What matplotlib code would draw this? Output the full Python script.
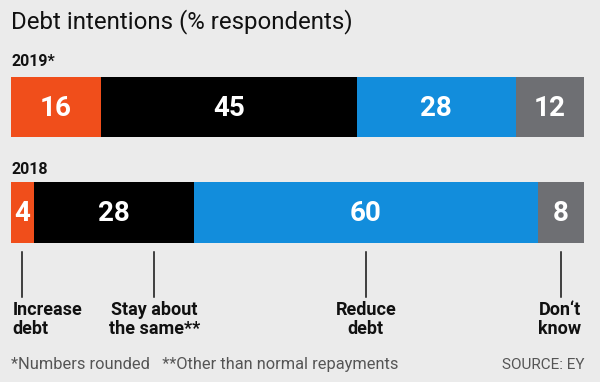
import matplotlib.pyplot as plt
import numpy as np

# data
years = ['2019*', '2018']
categories = ['Increase\ndebt', 'Stay about\nthe same**', 'Reduce\ndebt', 'Don\u2018t\nknow']
values_2019 = [16, 45, 28, 12]
values_2018 = [4, 28, 60, 8]

colors = ['#F04E1B', '#000000', '#128DDC', '#6E6F73']
bg = '#EBEBEB'
fam = ['Roboto', 'DejaVu Sans']

fig = plt.figure(figsize=(6, 3.82), dpi=100, facecolor=bg)
W, H = 600, 382
# bar area spans pixel 10.7 .. 583.6 horizontally, y in pixel units (top = 0)
ax = fig.add_axes([10.7 / W, 0, (583.6 - 10.7) / W, 1])
ax.set_xlim(0, 1)
ax.set_ylim(H, 0)
ax.axis('off')

rows = [(values_2019, 107, 60.6), (values_2018, 212.8, 61)]
for vals, yc, h in rows:
    v = np.array(vals, dtype=float)
    frac = v / v.sum()
    left = np.concatenate([[0], np.cumsum(frac)[:-1]])
    ax.barh(yc, frac, left=left, height=h, color=colors, linewidth=0)
    for l, f, val in zip(left, frac, vals):
        ax.text(l + f / 2, yc + 1, str(val), ha='center', va='center',
                color='white', fontsize=20, fontweight='bold', family=fam)

# year labels
for name, y in zip(years, [62, 169.5]):
    ax.text(0.002, y, name, ha='left', va='center', fontsize=11.5,
            fontweight='bold', family=fam, color='#111111')

# ticks under 2018 bar and category labels
v18 = np.array(values_2018, dtype=float)
f18 = v18 / v18.sum()
mids = np.cumsum(f18) - f18 / 2
tick_x = mids.copy()
tick_x[1] = 0.251
for x in tick_x:
    ax.plot([x, x], [251.7, 296.7], color='#111111', lw=1.1)

label_x = [0.003, tick_x[1], tick_x[2], 0.9965]
aligns = ['left', 'center', 'center', 'right']
for cat, x, ha in zip(categories, label_x, aligns):
    ax.text(x, 301, cat, ha=ha, va='top', fontsize=13, fontweight='bold',
            family=fam, color='#111111', linespacing=1.05)

# title and footer
fig.text(11 / W, 1 - 22 / H, 'Debt intentions (% respondents)', ha='left',
         va='center', fontsize=17.3, family=fam, color='#111111')
fig.text(11 / W, 1 - 365 / H, '*Numbers rounded   **Other than normal repayments',
         ha='left', va='center', fontsize=11.8, family=fam, color='#555555')
fig.text(584 / W, 1 - 365 / H, 'SOURCE: EY', ha='right', va='center',
         fontsize=11, family=fam, color='#555555')

fig.savefig('out.png', dpi=100, facecolor=bg)
